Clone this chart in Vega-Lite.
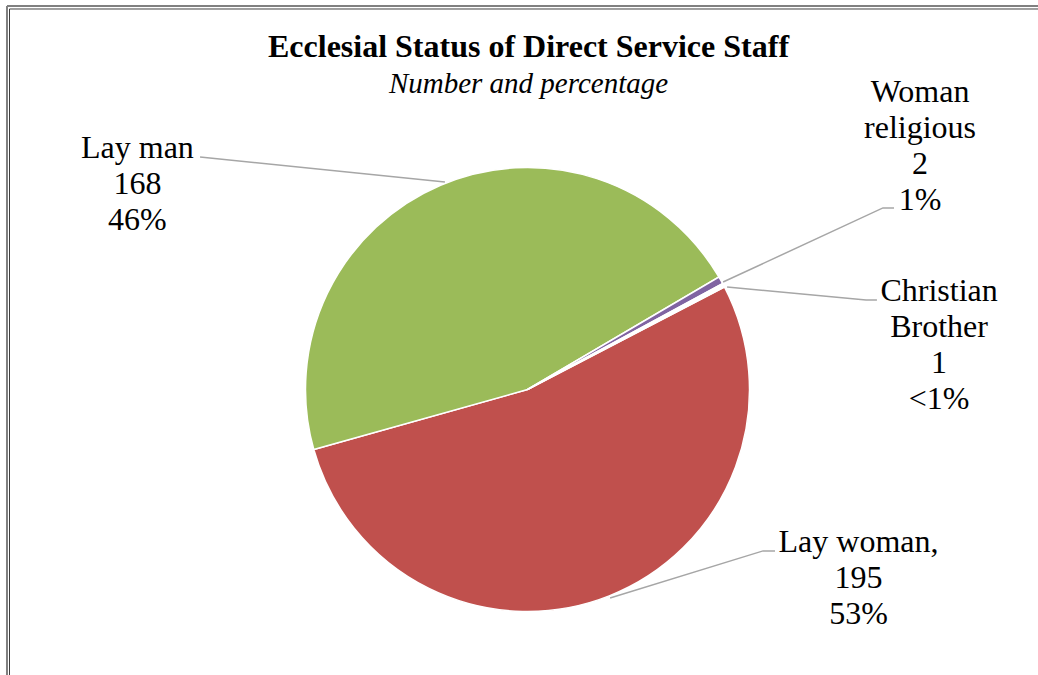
{
  "$schema": "https://vega.github.io/schema/vega-lite/v6.json",
  "width": 1038,
  "height": 675,
  "autosize": {"type": "none"},
  "padding": 0,
  "background": "white",
  "view": {"stroke": null},
  "config": {"text": {"font": "Liberation Serif"}, "font": "Liberation Serif"},
  "title": {
    "text": "Ecclesial Status of Direct Service Staff",
    "subtitle": "Number and percentage",
    "anchor": "middle",
    "frame": "group",
    "font": "Liberation Serif",
    "fontSize": 32,
    "fontWeight": "bold",
    "color": "#000000",
    "subtitleFont": "Liberation Serif",
    "subtitleFontSize": 29,
    "subtitleFontStyle": "italic",
    "subtitleColor": "#000000",
    "subtitlePadding": 6,
    "dx": 9.5,
    "offset": -100
  },
  "datasets": {
    "slices": [
      {"status": "Lay woman", "count": 195, "ord": 1},
      {"status": "Lay man", "count": 168, "ord": 2},
      {"status": "Woman religious", "count": 2, "ord": 3},
      {"status": "Christian Brother", "count": 1, "ord": 4}
    ],
    "labels": [
      {"status": "Lay man", "label": "Lay man\n168\n46%", "u": -1.757, "v": 1.043},
      {"status": "Woman religious", "label": "Woman\nreligious\n2\n1%", "u": 1.768, "v": 1.296},
      {"status": "Christian Brother", "label": "Christian\nBrother\n1\n<1%", "u": 1.854, "v": 0.4},
      {"status": "Lay woman", "label": "Lay woman,\n195\n53%", "u": 1.491, "v": -0.731}
    ],
    "leaders": [
      {"status": "Lay man", "k": 1, "u": -1.475, "v": 1.047},
      {"status": "Lay man", "k": 2, "u": -0.372, "v": 0.935},
      {"status": "Woman religious", "k": 1, "u": 0.881, "v": 0.484},
      {"status": "Woman religious", "k": 2, "u": 1.601, "v": 0.818},
      {"status": "Woman religious", "k": 3, "u": 1.651, "v": 0.818},
      {"status": "Christian Brother", "k": 1, "u": 0.899, "v": 0.462},
      {"status": "Christian Brother", "k": 2, "u": 1.525, "v": 0.403},
      {"status": "Christian Brother", "k": 3, "u": 1.574, "v": 0.403},
      {"status": "Lay woman", "k": 1, "u": 0.372, "v": -0.939},
      {"status": "Lay woman", "k": 2, "u": 1.061, "v": -0.727},
      {"status": "Lay woman", "k": 3, "u": 1.115, "v": -0.727}
    ]
  },
  "layer": [
    {
      "data": {"values": [{}]},
      "mark": {"type": "rule", "color": "#808080", "strokeWidth": 2},
      "encoding": {
        "x": {"datum": -2.3446, "type": "quantitative", "scale": {"domain": [-2.3761, 2.2995], "nice": false, "zero": false}, "axis": null},
        "y": {"datum": 1.7275, "type": "quantitative", "scale": {"domain": [-1.286, 1.7545], "nice": false, "zero": false}, "axis": null},
        "y2": {"datum": -1.286}
      }
    },
    {
      "data": {"values": [{}]},
      "mark": {"type": "rule", "color": "#808080", "strokeWidth": 2},
      "encoding": {
        "x": {"datum": -2.3446, "type": "quantitative"},
        "x2": {"datum": 2.2995},
        "y": {"datum": 1.7275, "type": "quantitative"}
      }
    },
    {
      "data": {"values": [{}]},
      "mark": {"type": "rule", "color": "#404040", "strokeWidth": 1},
      "encoding": {
        "x": {"datum": -2.3333, "type": "quantitative"},
        "y": {"datum": 1.714, "type": "quantitative"},
        "y2": {"datum": -1.286}
      }
    },
    {
      "data": {"values": [{}]},
      "mark": {"type": "rule", "color": "#404040", "strokeWidth": 1},
      "encoding": {
        "x": {"datum": -2.3333, "type": "quantitative"},
        "x2": {"datum": 2.2995},
        "y": {"datum": 1.714, "type": "quantitative"}
      }
    },
    {
      "data": {"name": "slices"},
      "mark": {"type": "arc", "outerRadius": 222, "stroke": "#ffffff", "strokeWidth": 1.5},
      "encoding": {
        "x": {"datum": 0, "type": "quantitative"},
        "y": {"datum": 0, "type": "quantitative"},
        "theta": {"field": "count", "type": "quantitative", "stack": true, "scale": {"range": [1.0908, 7.374]}},
        "order": {"field": "ord", "type": "quantitative", "sort": "ascending"},
        "color": {
          "field": "status",
          "type": "nominal",
          "scale": {
            "domain": ["Lay woman", "Lay man", "Woman religious", "Christian Brother"],
            "range": ["#C0504D", "#9BBB59", "#8064A2", "#FFFFFF"]
          },
          "legend": null
        }
      }
    },
    {
      "data": {"name": "leaders"},
      "mark": {"type": "line", "color": "#A6A6A6", "strokeWidth": 1.5},
      "encoding": {
        "x": {"field": "u", "type": "quantitative"},
        "y": {"field": "v", "type": "quantitative"},
        "detail": {"field": "status", "type": "nominal"},
        "order": {"field": "k", "type": "quantitative"}
      }
    },
    {
      "data": {"name": "labels"},
      "mark": {
        "type": "text",
        "font": "Liberation Serif",
        "fontSize": 32,
        "lineHeight": 36,
        "lineBreak": "\n",
        "align": "center",
        "baseline": "alphabetic",
        "color": "#000000"
      },
      "encoding": {
        "x": {"field": "u", "type": "quantitative"},
        "y": {"field": "v", "type": "quantitative"},
        "text": {"field": "label", "type": "nominal"}
      }
    }
  ]
}
